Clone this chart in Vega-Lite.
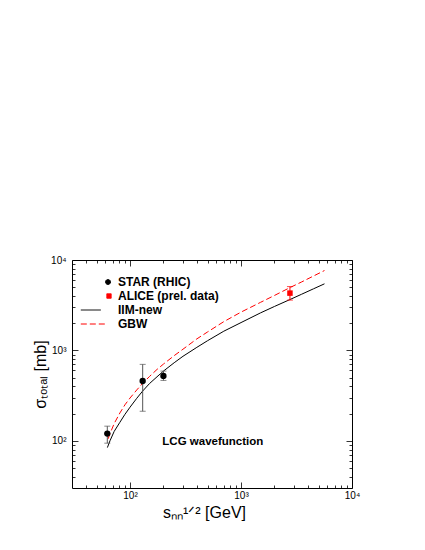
{
  "$schema": "https://vega.github.io/schema/vega-lite/v6.json",
  "width": 280,
  "height": 228,
  "autosize": {"type": "none"},
  "padding": {"left": 72, "top": 260, "right": 73, "bottom": 62},
  "background": "white",
  "config": {
    "view": {"stroke": "black", "strokeWidth": 1},
    "font": "Liberation Sans",
    "axis": {
      "domain": false,
      "grid": false,
      "tickColor": "black",
      "tickWidth": 0.8,
      "labelColor": "black",
      "labelFont": "Liberation Sans",
      "labelFontSize": 10,
      "titleFont": "Liberation Sans",
      "titleFontWeight": "normal",
      "titleFontSize": 16,
      "titleColor": "black",
      "labelOverlap": false,
      "labelFlush": false,
      "labelBound": false
    },
    "legend": {
      "orient": "none",
      "legendX": 30,
      "legendY": 16,
      "padding": 0,
      "symbolSize": 64,
      "symbolStrokeWidth": 1,
      "labelFont": "Liberation Sans",
      "labelFontSize": 12,
      "labelFontWeight": "bold",
      "labelColor": "black",
      "labelOffset": 4,
      "rowPadding": 2
    }
  },
  "datasets": {
    "curves": [
      {"model": "IIM-new", "x": 62.5, "y": 84},
      {"model": "IIM-new", "x": 66, "y": 100},
      {"model": "IIM-new", "x": 72, "y": 127},
      {"model": "IIM-new", "x": 81, "y": 160},
      {"model": "IIM-new", "x": 90, "y": 196},
      {"model": "IIM-new", "x": 100, "y": 235},
      {"model": "IIM-new", "x": 115, "y": 295},
      {"model": "IIM-new", "x": 130, "y": 355},
      {"model": "IIM-new", "x": 150, "y": 430},
      {"model": "IIM-new", "x": 175, "y": 510},
      {"model": "IIM-new", "x": 200, "y": 590},
      {"model": "IIM-new", "x": 250, "y": 730},
      {"model": "IIM-new", "x": 300, "y": 860},
      {"model": "IIM-new", "x": 400, "y": 1080},
      {"model": "IIM-new", "x": 500, "y": 1280},
      {"model": "IIM-new", "x": 700, "y": 1630},
      {"model": "IIM-new", "x": 1000, "y": 2030},
      {"model": "IIM-new", "x": 1500, "y": 2600},
      {"model": "IIM-new", "x": 2000, "y": 3060},
      {"model": "IIM-new", "x": 2760, "y": 3650},
      {"model": "IIM-new", "x": 3500, "y": 4170},
      {"model": "IIM-new", "x": 4500, "y": 4800},
      {"model": "IIM-new", "x": 5650, "y": 5450},
      {"model": "GBW", "x": 63.5, "y": 105},
      {"model": "GBW", "x": 66, "y": 120},
      {"model": "GBW", "x": 72, "y": 155},
      {"model": "GBW", "x": 81, "y": 203},
      {"model": "GBW", "x": 90, "y": 250},
      {"model": "GBW", "x": 100, "y": 297},
      {"model": "GBW", "x": 115, "y": 365},
      {"model": "GBW", "x": 130, "y": 432},
      {"model": "GBW", "x": 150, "y": 515},
      {"model": "GBW", "x": 175, "y": 615},
      {"model": "GBW", "x": 200, "y": 705},
      {"model": "GBW", "x": 250, "y": 875},
      {"model": "GBW", "x": 300, "y": 1030},
      {"model": "GBW", "x": 400, "y": 1340},
      {"model": "GBW", "x": 500, "y": 1600},
      {"model": "GBW", "x": 700, "y": 2080},
      {"model": "GBW", "x": 1000, "y": 2650},
      {"model": "GBW", "x": 1500, "y": 3400},
      {"model": "GBW", "x": 2000, "y": 4050},
      {"model": "GBW", "x": 2760, "y": 4950},
      {"model": "GBW", "x": 3500, "y": 5700},
      {"model": "GBW", "x": 4500, "y": 6650},
      {"model": "GBW", "x": 5650, "y": 7650}
    ],
    "points": [
      {"exp": "STAR (RHIC)", "x": 62.4, "y": 120, "lo": 94, "hi": 145},
      {"exp": "STAR (RHIC)", "x": 130, "y": 458, "lo": 212, "hi": 700},
      {"exp": "STAR (RHIC)", "x": 200, "y": 522, "lo": 465, "hi": 590},
      {"exp": "ALICE (prel. data)", "x": 2760, "y": 4300, "lo": 3600, "hi": 5080}
    ],
    "notes": [
      {"label": "LCG wavefunction", "x": 557, "y": 96}
    ],
    "legend": [
      {"series": "STAR (RHIC)"},
      {"series": "ALICE (prel. data)"},
      {"series": "IIM-new"},
      {"series": "GBW"}
    ]
  },
  "layer": [
    {
      "data": {"name": "curves"},
      "transform": [{"filter": "datum.model == 'IIM-new'"}],
      "mark": {"type": "line", "color": "black", "strokeWidth": 1, "clip": true},
      "encoding": {
        "x": {
          "field": "x", "type": "quantitative",
          "scale": {"type": "log", "domain": [30, 10000], "nice": false},
          "axis": {
            "orient": "bottom",
            "values": [40, 50, 60, 70, 80, 90, 100, 200, 300, 400, 500, 600, 700, 800, 900, 1000, 2000, 3000, 4000, 5000, 6000, 7000, 8000, 9000, 10000],
            "labelExpr": "datum.value == 100 ? '10²' : datum.value == 1000 ? '10³' : datum.value == 10000 ? '10⁴' : ''",
            "tickSize": {"condition": {"test": "datum.value == 100 || datum.value == 1000 || datum.value == 10000", "value": -6}, "value": -3},
            "labelPadding": 8,
            "title": "sₙₙ¹ᐟ² [GeV]",
            "titlePadding": 1,
            "titleX": 132
          }
        },
        "y": {
          "field": "y", "type": "quantitative",
          "scale": {"type": "log", "domain": [30, 10000], "nice": false},
          "axis": {
            "orient": "left",
            "values": [40, 50, 60, 70, 80, 90, 100, 200, 300, 400, 500, 600, 700, 800, 900, 1000, 2000, 3000, 4000, 5000, 6000, 7000, 8000, 9000, 10000],
            "labelExpr": "datum.value == 100 ? '10²' : datum.value == 1000 ? '10³' : datum.value == 10000 ? '10⁴' : ''",
            "tickSize": {"condition": {"test": "datum.value == 100 || datum.value == 1000 || datum.value == 10000", "value": -6}, "value": -3},
            "labelPadding": 12,
            "title": "σₜₒₜₐₗ [mb]",
            "titlePadding": 2
          }
        }
      }
    },
    {
      "data": {"name": "curves"},
      "transform": [{"filter": "datum.model == 'GBW'"}],
      "mark": {"type": "line", "color": "#ff0000", "strokeWidth": 1, "strokeDash": [6, 3], "clip": true},
      "encoding": {
        "x": {
          "field": "x", "type": "quantitative",
          "scale": {"type": "log", "domain": [30, 10000], "nice": false},
          "axis": {
            "orient": "top",
            "values": [40, 50, 60, 70, 80, 90, 100, 200, 300, 400, 500, 600, 700, 800, 900, 1000, 2000, 3000, 4000, 5000, 6000, 7000, 8000, 9000, 10000],
            "labels": false,
            "tickSize": {"condition": {"test": "datum.value == 100 || datum.value == 1000 || datum.value == 10000", "value": -6}, "value": -3},
            "title": null
          }
        },
        "y": {
          "field": "y", "type": "quantitative",
          "scale": {"type": "log", "domain": [30, 10000], "nice": false},
          "axis": {
            "orient": "right",
            "values": [40, 50, 60, 70, 80, 90, 100, 200, 300, 400, 500, 600, 700, 800, 900, 1000, 2000, 3000, 4000, 5000, 6000, 7000, 8000, 9000, 10000],
            "labels": false,
            "tickSize": {"condition": {"test": "datum.value == 100 || datum.value == 1000 || datum.value == 10000", "value": -6}, "value": -3},
            "title": null
          }
        }
      }
    },
    {
      "data": {"name": "points"},
      "transform": [{"filter": "datum.exp == 'STAR (RHIC)'"}],
      "mark": {"type": "errorbar", "color": "#555555", "thickness": 1, "ticks": {"size": 6}},
      "encoding": {
        "x": {"field": "x", "type": "quantitative", "scale": {"type": "log", "domain": [30, 10000], "nice": false}, "axis": null},
        "y": {"field": "lo", "type": "quantitative", "scale": {"type": "log", "domain": [30, 10000], "nice": false}, "axis": null},
        "y2": {"field": "hi"}
      }
    },
    {
      "data": {"name": "points"},
      "transform": [{"filter": "datum.exp == 'ALICE (prel. data)'"}],
      "mark": {"type": "errorbar", "color": "#ff0000", "thickness": 1, "ticks": {"size": 6}},
      "encoding": {
        "x": {"field": "x", "type": "quantitative", "scale": {"type": "log", "domain": [30, 10000], "nice": false}, "axis": null},
        "y": {"field": "lo", "type": "quantitative", "scale": {"type": "log", "domain": [30, 10000], "nice": false}, "axis": null},
        "y2": {"field": "hi"}
      }
    },
    {
      "data": {"name": "points"},
      "transform": [{"filter": "datum.exp == 'STAR (RHIC)'"}],
      "mark": {"type": "point", "shape": "circle", "filled": true, "color": "black", "opacity": 1, "size": 40},
      "encoding": {
        "x": {"field": "x", "type": "quantitative", "scale": {"type": "log", "domain": [30, 10000], "nice": false}, "axis": null},
        "y": {"field": "y", "type": "quantitative", "scale": {"type": "log", "domain": [30, 10000], "nice": false}, "axis": null}
      }
    },
    {
      "data": {"name": "points"},
      "transform": [{"filter": "datum.exp == 'ALICE (prel. data)'"}],
      "mark": {"type": "point", "shape": "square", "filled": true, "color": "#ff0000", "opacity": 1, "size": 30},
      "encoding": {
        "x": {"field": "x", "type": "quantitative", "scale": {"type": "log", "domain": [30, 10000], "nice": false}, "axis": null},
        "y": {"field": "y", "type": "quantitative", "scale": {"type": "log", "domain": [30, 10000], "nice": false}, "axis": null}
      }
    },
    {
      "data": {"name": "notes"},
      "mark": {"type": "text", "font": "Liberation Sans", "fontSize": 11.5, "fontWeight": "bold", "color": "black", "align": "center", "baseline": "middle"},
      "encoding": {
        "x": {"field": "x", "type": "quantitative", "scale": {"type": "log", "domain": [30, 10000], "nice": false}, "axis": null},
        "y": {"field": "y", "type": "quantitative", "scale": {"type": "log", "domain": [30, 10000], "nice": false}, "axis": null},
        "text": {"field": "label"}
      }
    },
    {
      "data": {"name": "legend"},
      "transform": [{"filter": "false"}],
      "mark": {"type": "point", "opacity": 1, "strokeWidth": 1},
      "encoding": {
        "shape": {
          "field": "series", "type": "nominal",
          "scale": {
            "domain": ["STAR (RHIC)", "ALICE (prel. data)", "IIM-new", "GBW"],
            "range": [
              "M0.625,0A0.625,0.625,0,1,1,-0.625,0A0.625,0.625,0,1,1,0.625,0Z",
              "M-0.3,-0.55H0.8V0.55H-0.3Z",
              "M-6.8,0H-1.8",
              "M-6.8,0H-0.3"
            ]
          },
          "legend": {"title": null}
        },
        "fill": {
          "field": "series", "type": "nominal",
          "scale": {"domain": ["STAR (RHIC)", "ALICE (prel. data)", "IIM-new", "GBW"], "range": ["black", "#ff0000", "black", "#ff0000"]},
          "legend": {"title": null}
        },
        "stroke": {
          "field": "series", "type": "nominal",
          "scale": {"domain": ["STAR (RHIC)", "ALICE (prel. data)", "IIM-new", "GBW"], "range": ["black", "#ff0000", "black", "#ff0000"]},
          "legend": {"title": null}
        },
        "strokeDash": {
          "field": "series", "type": "nominal",
          "scale": {"domain": ["STAR (RHIC)", "ALICE (prel. data)", "IIM-new", "GBW"], "range": [[1, 0], [1, 0], [1, 0], [6, 3]]},
          "legend": {"title": null}
        }
      }
    }
  ],
  "resolve": {"axis": {"x": "independent", "y": "independent"}}
}
